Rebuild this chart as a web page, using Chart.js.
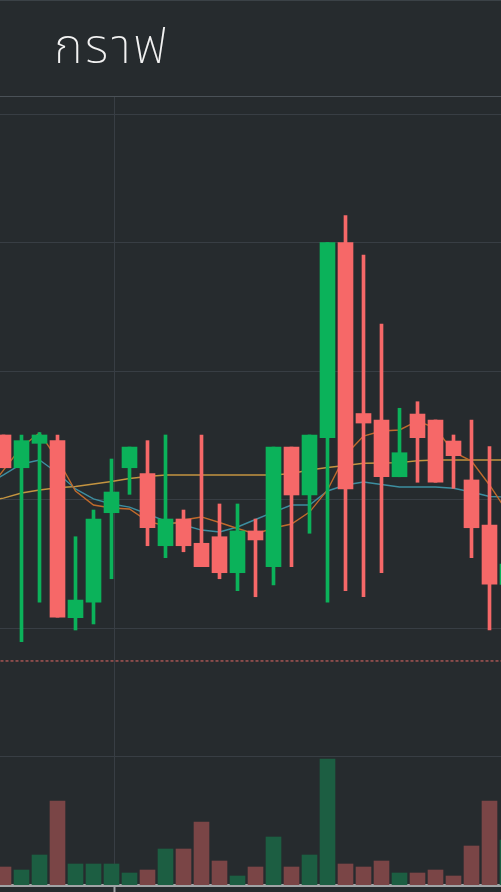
<!DOCTYPE html>
<html>
<head>
<meta charset="utf-8">
<script src="https://cdn.jsdelivr.net/npm/chart.js@4.4.1/dist/chart.umd.min.js"></script>
<style>
  html, body { margin: 0; padding: 0; background: #262b2e; }
  body { width: 501px; height: 892px; position: relative; overflow: hidden; }
  #topline { position: absolute; left: 0; top: 0; width: 501px; height: 1px; background: #3b4247; }
  #title { position: absolute; left: 54px; top: 17px; color: #f2f2f2; font-family: "Noto Sans Thai", "Noto Sans Thai UI", "Noto Sans", sans-serif; font-weight: 200; font-size: 49px; letter-spacing: 2.5px; line-height: 62px; margin: 0; }
  #sep { position: absolute; left: 0; top: 96px; width: 501px; height: 1px; background: #4a5157; }
  #wrap { position: absolute; left: 0; top: 97px; width: 501px; height: 795px; }
</style>
</head>
<body>
<div id="topline"></div>
<h1 id="title">กราฟ</h1>
<div id="sep"></div>
<div id="wrap"><canvas id="c" width="501" height="795"></canvas></div>
<script>
// candle index (x positions), index 28 is mostly cut off by the right edge
const candleIndex = [0,1,2,3,4,5,6,7,8,9,10,11,12,13,14,15,16,17,18,19,20,21,22,23,24,25,26,27,28];
const openPrices  = [105.04,102.49,104.39,104.60,90.82,92.02,98.99,102.49,102.03,96.42,98.50,96.61,97.12,94.32,97.57,94.79,104.10,100.37,104.83,120.01,106.71,106.21,101.79,106.67,106.21,104.57,101.54,98.03,93.40];
const highPrices  = [105.04,105.04,105.22,105.04,97.12,99.20,103.17,104.10,104.60,105.04,99.20,105.04,99.67,99.67,98.50,104.10,104.10,105.04,120.01,122.11,119.05,113.68,107.12,107.63,106.21,105.04,106.21,104.13,96.00];
const lowPrices   = [102.49,88.95,92.02,90.85,89.86,90.33,93.85,100.42,96.42,95.49,95.95,94.79,93.85,92.92,92.45,93.36,94.79,97.39,92.02,92.92,92.45,94.32,101.79,101.36,101.36,100.89,95.49,89.86,92.50];
const closePrices = [102.49,104.60,105.04,90.85,92.19,98.50,100.60,104.10,97.82,98.50,96.42,94.79,94.32,97.57,96.87,104.10,100.37,105.04,120.01,100.84,105.97,101.79,103.66,104.83,101.36,103.43,97.82,93.42,95.00];
const volumes     = [18,15,30,84,21,21,21,12,15,36,36,63,24,9,18,48,18,30,126,21,18,24,12,12,15,9,39,84,45];

// moving averages, first value belongs to the candle before index 0
const maIndex  = [-1,0,1,2,3,4,5,6,7,8,9,10,11,12,13,14,15,16,17,18,19,20,21,22,23,24,25,26,27,28];
const maFast   = [100.52,102.31,104.10,105.19,103.17,100.68,99.59,99.36,99.28,98.34,97.96,98.42,98.66,98.23,97.76,97.33,97.80,98.11,99.04,100.76,103.48,104.96,105.35,105.43,106.13,105.58,103.72,103.01,101.15,99.04];
const maMid    = [101.15,101.93,102.78,103.09,102.08,100.84,100.06,99.67,99.43,98.89,98.34,98.03,97.64,97.49,97.88,98.46,99.04,99.59,99.59,100.68,101.15,101.38,101.19,100.99,100.99,100.99,100.89,100.60,100.25,100.21];
const maSlow   = [99.82,100.13,100.52,100.76,100.93,101.03,101.22,101.42,101.65,101.81,101.93,101.93,101.93,101.93,101.93,101.93,101.93,102.04,102.31,102.51,102.66,102.84,102.86,102.89,103.04,103.09,103.09,103.09,103.09,103.09];

const priceLine = 87.45;           // dotted price line
const priceGridTicks = [80,90,100,110,120,130];
const timeGridTicks = [6.15];

const GREEN = '#0bb25a', RED = '#f66868';
const VGREEN = '#1c5e42', VRED = '#7a4546';

const up = candleIndex.map((_, i) => closePrices[i] >= openPrices[i]);
const bodies = candleIndex.map((_, i) => [openPrices[i], closePrices[i]]);
const wicks  = candleIndex.map((_, i) => [lowPrices[i], highPrices[i]]);
const pts = arr => arr.map((v, i) => ({x: maIndex[i], y: v}));

new Chart(document.getElementById('c'), {
  type: 'bar',
  data: {
    labels: candleIndex,
    datasets: [
      { type: 'bar', data: bodies, backgroundColor: up.map(u => u ? GREEN : RED), barThickness: 15, grouped: false, order: 1, borderWidth: 0 },
      { type: 'bar', data: wicks, backgroundColor: up.map(u => u ? GREEN : RED), barThickness: 3, grouped: false, order: 2, borderWidth: 0 },
      { type: 'line', data: pts(maFast), borderColor: '#c06a2c', borderWidth: 1.4, pointRadius: 0, order: 5, tension: 0 },
      { type: 'line', data: pts(maMid), borderColor: '#3d8ea0', borderWidth: 1.4, pointRadius: 0, order: 6, tension: 0 },
      { type: 'line', data: pts(maSlow), borderColor: '#c49440', borderWidth: 1.4, pointRadius: 0, order: 7, tension: 0 },
      { type: 'line', data: [{x: -1, y: priceLine}, {x: 29, y: priceLine}], borderColor: '#e46a66', borderWidth: 1, borderDash: [3, 2], pointRadius: 0, order: 8 },
      { type: 'bar', data: volumes, yAxisID: 'vol', backgroundColor: up.map(u => u ? VGREEN : VRED), barThickness: 15, grouped: false, order: 10, borderWidth: 0 }
    ]
  },
  options: {
    responsive: false,
    animation: false,
    events: [],
    layout: { padding: 0 },
    plugins: { legend: { display: false }, tooltip: { enabled: false }, title: { display: false } },
    scales: {
      x: {
        type: 'linear',
        min: -3.5 / 18,
        max: (501 - 3.5) / 18,
        offset: false,
        afterBuildTicks: s => { s.ticks = timeGridTicks.map(v => ({value: v})); },
        ticks: { display: false },
        grid: { offset: false, color: '#383e44', lineWidth: 1, drawTicks: true, tickLength: 7, tickColor: '#a0a3a5', tickWidth: 2 },
        border: { display: true, color: '#a0a3a5', width: 3 }
      },
      y: {
        position: 'right',
        min: 70.01,
        max: 131.35,
        afterBuildTicks: s => { s.ticks = priceGridTicks.map(v => ({value: v})); },
        ticks: { display: false },
        grid: { color: '#383e44', lineWidth: 1, drawTicks: false },
        border: { display: false }
      },
      vol: {
        position: 'left',
        display: false,
        min: 0,
        max: 788
      }
    }
  }
});
</script>
</body>
</html>
